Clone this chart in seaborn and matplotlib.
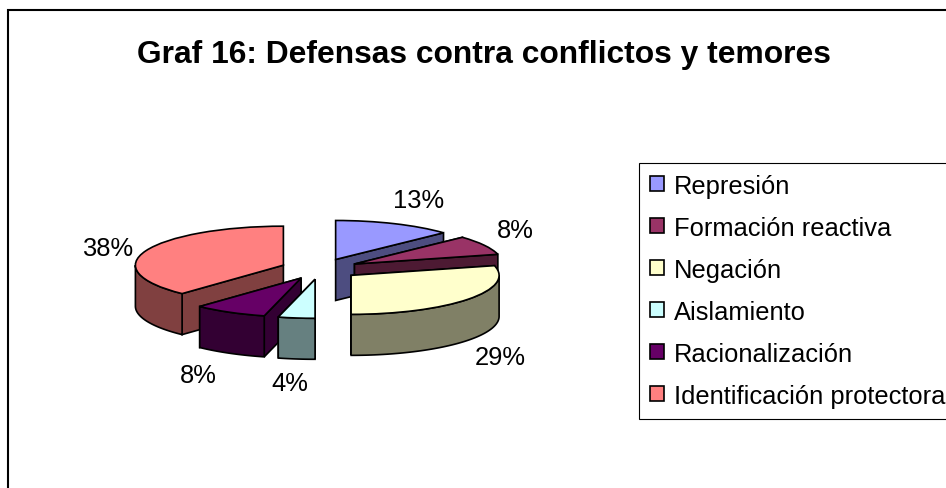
# -*- coding: utf-8 -*-
'''plot.py - Graf 16, exploded 3D look pie'''

import numpy as np
import matplotlib
matplotlib.use('Agg')
import matplotlib.pyplot as plt
from matplotlib.patches import Rectangle
import seaborn as sns

categories = ['Represión', 'Formación reactiva', 'Negación', 'Aislamiento',
              'Racionalización', 'Identificación protectora']
values = [13, 8, 29, 4, 8, 38]
top_colors = ['#9999FF', '#993366', '#FFFFCC', '#CCFFFF', '#660066', '#FF8080']
title = 'Graf 16: Defensas contra conflictos y temores'

# where the percent labels sit, in pixels of the picture
label_px = [(419, 201), (515, 231), (500, 358), (290, 384), (198, 376), (108, 249)]

W, H = 946, 489
CX, CY = 320, 270      # pie centre
RX, RY = 148, 39       # ellipse radii
WALL = 41 / RY         # height of the side wall, in y units
EXPLODE = 0.266
LW = 1.2
FONT = 18.4

sns.set_style('white')
plt.rcParams['font.family'] = ['Liberation Sans', 'DejaVu Sans']


def fx(px):
    return px / W


def fy(py):
    return 1 - py / H


def main():
    palette = sns.color_palette(top_colors)
    fig = plt.figure(figsize=(W / 100, H / 100), dpi=100, facecolor='white')
    ax = fig.add_axes([0, 0, 1, 1])

    wedges, _ = ax.pie(values, colors=palette, explode=[EXPLODE] * len(values),
                       startangle=90, counterclock=False,
                       wedgeprops={'edgecolor': 'black', 'linewidth': LW})
    # squash the round pie into the ellipse
    ax.set_aspect('auto')
    ax.set_xlim(-CX / RX, (W - CX) / RX)
    ax.set_ylim((CY - H) / RY, CY / RY)

    # angles clockwise from 12 o'clock
    total = sum(values)
    ends = np.cumsum(values) / total * 2 * np.pi
    starts = ends - np.array(values) / total * 2 * np.pi
    mids = (starts + ends) / 2
    tips_x = EXPLODE * np.sin(mids)
    tips_y = EXPLODE * np.cos(mids)

    # back slices first
    order = np.argsort(-tips_y)
    for z, i in enumerate(order):
        z_base = 3 + z * 3
        dark = tuple(c / 2 for c in palette[i])
        edges = sorted([starts[i], ends[i]], key=lambda t: -np.cos(t))
        for k, th in enumerate(edges):
            px = tips_x[i] + np.sin(th)
            py = tips_y[i] + np.cos(th)
            ax.fill([tips_x[i], px, px, tips_x[i]],
                    [tips_y[i], py, py - WALL, tips_y[i] - WALL],
                    facecolor=dark, edgecolor='black', linewidth=LW,
                    zorder=z_base + k * 0.1)
        # rim, only the part that faces the viewer
        a = max(starts[i], np.pi / 2)
        b = min(ends[i], 3 * np.pi / 2)
        if b > a:
            th = np.linspace(a, b, 80)
            rim_x = tips_x[i] + np.sin(th)
            rim_y = tips_y[i] + np.cos(th)
            ax.fill(np.r_[rim_x, rim_x[::-1]], np.r_[rim_y, rim_y[::-1] - WALL],
                    facecolor=dark, edgecolor='black', linewidth=LW,
                    zorder=z_base + 0.5)
        wedges[i].set_zorder(z_base + 1)

    for v, (px, py) in zip(values, label_px):
        fig.text(fx(px), fy(py), f'{v}%', fontsize=FONT, color='black',
                 ha='center', va='center')

    fig.text(fx(484), fy(55), title, fontsize=22.9, fontweight='bold',
             color='black', ha='center', va='center')

    leg = ax.legend(wedges, categories, loc='upper left',
                    bbox_to_anchor=(fx(639), fy(164)),
                    bbox_transform=fig.transFigure, fontsize=FONT, labelcolor='black',
                    frameon=True, fancybox=False, framealpha=1, edgecolor='black',
                    borderaxespad=0, borderpad=0.42, labelspacing=0.705,
                    handlelength=0.55, handleheight=0.55, handletextpad=0.39)
    leg.get_frame().set_linewidth(0.8)
    leg.set_zorder(40)

    # chart border, runs off the right and the bottom of the picture
    fig.add_artist(Rectangle((fx(7.5), fy(540)), (1000 - 7.5) / W, (540 - 10.5) / H,
                             transform=fig.transFigure, fill=False,
                             edgecolor='black', linewidth=1.5))

    fig.savefig('out.png', dpi=100)


if __name__ == '__main__':
    main()
